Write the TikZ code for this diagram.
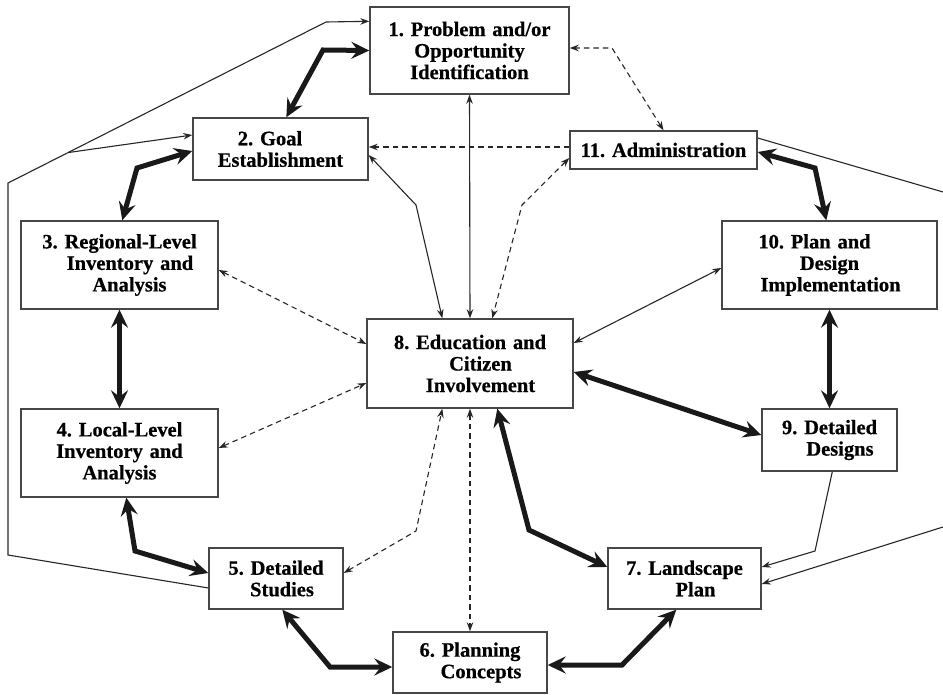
\documentclass[tikz,border=0pt]{standalone}
\usepackage{fontspec}
\setmainfont{Liberation Serif}[BoldFeatures={FakeBold=0.6}]
\usetikzlibrary{arrows.meta,calc}
\begin{document}
\frenchspacing
\begin{tikzpicture}[x=1pt,y=-1pt,
  box/.style={draw=black!72, line width=1.4pt, fill=white, inner sep=0pt, align=center,
    font=\bfseries\fontsize{20.5}{21.5}\selectfont},
  bigtip/.tip={Stealth[length=18pt,width=17pt,inset=6.5pt]},
  smalltip/.tip={Stealth[length=9pt,width=6.5pt]},
  thk/.style={line width=5pt, black!90, line join=miter, bigtip-bigtip},
  thn/.style={line width=1.1pt, black!85, smalltip-smalltip},
  thnend/.style={line width=1.1pt, black!85, -smalltip},
  thnplain/.style={line width=1.1pt, black!85},
  dsh/.style={line width=1.1pt, black!85, dash pattern=on 5.5pt off 4pt, smalltip-smalltip},
  dshend/.style={line width=1.1pt, black!85, dash pattern=on 5.5pt off 4pt, -smalltip}
]
\useasboundingbox (0,0) rectangle (943,695);

% boxes
\node[box, text width=199pt, minimum height=87pt] (b1) at (469.5,50.5) {1. Problem and/or\\Opportunity\\Identification};
\node[box, text width=175pt, minimum height=62pt] (b2) at (280.5,149) {\hspace*{-21pt}2. Goal\\Establishment};
\node[box, text width=197pt, minimum height=88pt] (b3) at (119.5,265) {3. Regional-Level\\\hspace*{21pt}Inventory and\\\hspace*{20pt}Analysis};
\node[box, text width=197pt, minimum height=88pt] (b4) at (119.5,453) {4. Local-Level\\Inventory and\\Analysis};
\node[box, text width=134pt, minimum height=61pt] (b5) at (276,578.5) {5. Detailed\\\hspace*{12pt}Studies};
\node[box, text width=154pt, minimum height=61pt] (b6) at (470,662.5) {6. Planning\\\hspace*{22pt}Concepts};
\node[box, text width=153pt, minimum height=61pt] (b7) at (684.5,578.5) {7. Landscape\\\hspace*{22pt}Plan};
\node[box, text width=206pt, minimum height=89pt] (b8) at (470,363.5) {8. Education and\\\hspace*{21pt}Citizen\\\hspace*{21pt}Involvement};
\node[box, text width=135pt, minimum height=62pt] (b9) at (829.5,440) {9. Detailed\\\hspace*{21pt}Designs};
\node[box, text width=215pt, minimum height=88pt] (b10) at (829.5,265) {\hspace*{-30pt}10. Plan and\\Design\\\hspace*{2pt}Implementation};
\node[box, text width=187pt, minimum height=38pt] (b11) at (663.5,150) {11. Administration};

% free ends
\coordinate (edgeR1) at (943,192);
\coordinate (edgeR2) at (943,527);
\coordinate (lbot) at (8,555);
\coordinate (ltop) at (8,183);
\coordinate (lbend) at (326,22);
\coordinate (br) at ($(ltop)!0.189!(lbend)$);

% thick double arrows
\draw[thk] ($(b2.north west)+(94,0)$) -- (323,50) -- (b1.west);
\draw[thk] ($(b2.west)+(0,2)$) -- (137,168) -- ($(b3.north west)+(102,0)$);
\draw[thk] (b3.south) -- (b4.north);
\draw[thk] ($(b4.south west)+(106,0)$) -- (135,551) -- ($(b5.west)+(0,-5.5)$);
\draw[thk] ($(b5.south west)+(74,0)$) -- (330,667) -- ($(b6.west)+(0,4.5)$);
\draw[thk] ($(b6.east)+(0,2.5)$) -- (622,665) -- ($(b7.south west)+(69,0)$);
\draw[thk] ($(b8.south west)+(131,0)$) -- (529,530) -- ($(b7.west)+(0,-11.5)$);
\draw[thk] ($(b8.east)+(0,8.5)$) -- ($(b9.west)+(0,-5)$);
\draw[thk] (b10.south) -- (b9.north);
\draw[thk] ($(b11.east)+(0,2)$) -- (815,168) -- ($(b10.north west)+(105,0)$);

% thin solid
\draw[thn] (b1.south) -- (b8.north);
\draw[thn] ($(b2.east)+(0,6)$) -- (416,205) -- ($(b8.north west)+(76,0)$);
\draw[thn] ($(b10.west)+(0,3)$) -- ($(b8.east)+(0,-20.5)$);
\draw[thnend] ($(b9.south west)+(71,0)$) -- (815,551) -- ($(b7.east)+(0,-11.5)$);
\draw[thnend] (edgeR2) -- ($(b7.east)+(0,5.5)$);
\draw[thnplain] ($(b11.east)+(0,-12)$) -- (edgeR1);
\draw[thnend] ($(b5.west)+(0,9.5)$) -- (lbot) -- (ltop) -- (lbend) -- ($(b1.north west)+(0,15)$);
\draw[thnend] (br) -- ($(b2.west)+(0,-14)$);

% dashed
\draw[dsh] (b11.north) -- (612,48) -- ($(b1.east)+(0,-2.5)$);
\draw[dshend] ($(b11.west)+(0,-3)$) -- ($(b2.east)+(0,-2)$);
\draw[dsh] ($(b11.west)+(0,8)$) -- (522,205) -- ($(b8.north west)+(126,0)$);
\draw[dsh] ($(b3.east)+(0,5)$) -- ($(b8.west)+(0,-19.5)$);
\draw[dsh] ($(b4.east)+(0,-5)$) -- ($(b8.west)+(0,19.5)$);
\draw[dsh] ($(b5.east)+(0,-5.5)$) -- (416,531) -- ($(b8.south west)+(76,0)$);
\draw[dsh] (b8.south) -- (b6.north);
\end{tikzpicture}
\end{document}
